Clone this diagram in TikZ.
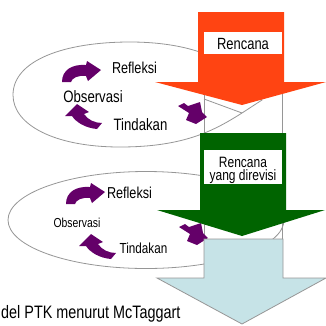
\documentclass[tikz,border=0pt]{standalone}
\usepackage{fontspec}
\setmainfont{Liberation Sans}
\newfontfamily\nf[FakeStretch=0.8]{Liberation Sans}
\definecolor{redarrow}{RGB}{255,68,18}
\definecolor{greenarrow}{RGB}{0,100,0}
\definecolor{bluearrow}{RGB}{198,227,231}
\definecolor{purp}{RGB}{100,0,105}
\definecolor{lgray}{RGB}{150,150,150}
\newcommand{\fsz}[1]{\nf\fontsize{#1}{#1}\selectfont}
\tikzset{
  outline/.style={draw=lgray, line width=0.8pt},
  lbl/.style={inner sep=0pt, anchor=base, text=black},
  whitebox/.style={fill=white, draw=none},
  refarrow/.pic={\fill[purp] (62,82) .. controls (62,70) and (72,64) .. (86,65) -- (87,61) -- (101,70) -- (88,81) -- (86,76) .. controls (78,75) and (72,78) .. (71,82) -- cycle;},
  tinarrow/.pic={\fill[purp] (77,104) -- (89,112) -- (84,114) .. controls (88,120) and (95,123) .. (102,123) -- (97,129) .. controls (85,128) and (76,122) .. (72,116) -- (65,116) -- cycle;},
  downarrow/.pic={\fill[purp] (178,106) -- (184,103) -- (188,106) -- (200,102) -- (202,112) -- (207,117) -- (196,124) -- (186,120) -- (189,113) -- cycle;}
}
\begin{document}
\begin{tikzpicture}[x=1pt,y=-1pt]
\useasboundingbox (0,0) rectangle (326,325);
\clip (0,0) rectangle (326,325);
% white column behind
\draw[outline, fill=white] (204,70) rectangle (282,250);
% ellipse 1
\draw[outline] (13,95) .. controls (13,60) and (65,42) .. (130,42) .. controls (165,42) and (190,48) .. (205,54) -- (262,100) -- (242,113) .. controls (215,130) and (185,147) .. (120,147) .. controls (55,147) and (13,125) .. cycle;
\draw[outline] (204,99) -- (242,113);
% ellipse 2
\draw[outline] (146,220) ellipse [x radius=138, y radius=48.5];
% purple arrows group 1
\pic {refarrow};
\pic {tinarrow};
\pic {downarrow};
% group 2
\pic[shift={(4,122)}] {refarrow};
\pic[shift={(14,130)}] {tinarrow};
\pic[shift={(1,121)}] {downarrow};
% texts group 1
\node[lbl, font=\fsz{15.8}] (r1) at (134.5,73) {Refleksi};
\node[lbl, font=\fsz{16.5}] (o1) at (93,102) {Observasi};
\node[lbl, font=\fsz{16.5}] (t1) at (140.5,130) {Tindakan};
% texts group 2
\node[lbl, font=\fsz{15.8}] (r2) at (129.5,198) {Refleksi};
\node[lbl, font=\fsz{13}] (o2) at (77,227) {Observasi};
\node[lbl, font=\fsz{14.6}] (t2) at (143.5,253) {Tindakan};
% red arrow
\fill[redarrow] (198,12) -- (284,12) -- (284,82) -- (326,82) -- (242,105) -- (155,82) -- (198,82) -- cycle;
\fill[whitebox] (204,32) rectangle (282,54);
\node[lbl, font=\fsz{16.2}] (rc1) at (243,49) {Rencana};
% green arrow
\fill[greenarrow] (200,133) -- (286,133) -- (286,210) -- (325,210) -- (242,236) -- (157,210) -- (200,210) -- cycle;
\fill[whitebox] (204,150) rectangle (282,184);
\node[lbl, font=\fsz{15}] (rc2) at (243,167) {Rencana};
\node[lbl, font=\fsz{15}] (rc3) at (243,180.5) {yang direvisi};
% light blue arrow
\draw[outline, fill=bluearrow] (204,239) -- (283,239) -- (283,278) -- (326,278) -- (242,324) -- (157,278) -- (204,278) -- cycle;
% caption
\node[lbl, anchor=base west, font=\fsz{18}] (cap) at (1,318) {del PTK menurut McTaggart};
\end{tikzpicture}
\end{document}
